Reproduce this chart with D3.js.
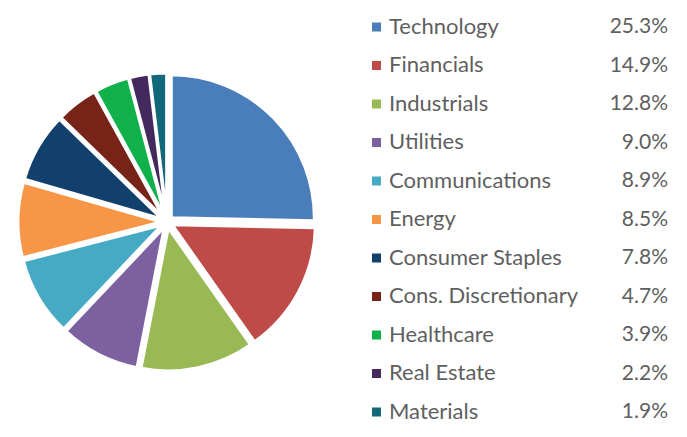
<!DOCTYPE html>
<html><head><meta charset="utf-8">
<script src="https://cdn.jsdelivr.net/npm/d3@7"></script>
<style>html,body{margin:0;padding:0;background:#fff;}</style>
</head><body><svg id="c" width="687" height="437"></svg>
<script>
const categories = ["Technology","Financials","Industrials","Utilities","Communications","Energy","Consumer Staples","Cons. Discretionary","Healthcare","Real Estate","Materials"];
const values = [25.3,14.9,12.8,9.0,8.9,8.5,7.8,4.7,3.9,2.2,1.9];
const valueLabels = ["25.3%","14.9%","12.8%","9.0%","8.9%","8.5%","7.8%","4.7%","3.9%","2.2%","1.9%"];
const colors = ["#4a7ebb","#be4b48","#98b954","#7d60a0","#46aac5","#f79646","#11406d","#772318","#10b04a","#44295e","#126878"];

const svg = d3.select("#c");
const cx = 167, cy = 222, R = 143, explode = 6;
const pie = d3.pie().sort(null).value(d => d.v);
const arcs = pie(categories.map((c,i)=>({c, v: values[i], col: colors[i]})));
const arc = d3.arc().innerRadius(0).outerRadius(R);
const g = svg.append("g").attr("transform", `translate(${cx},${cy})`);
g.selectAll("path").data(arcs).join("path")
  .attr("d", arc)
  .attr("fill", d => d.data.col)
  .attr("stroke", "#fff").attr("stroke-width", 3).attr("stroke-linejoin","miter")
  .attr("transform", d => {
    const a = (d.startAngle + d.endAngle)/2;
    return `translate(${explode*Math.sin(a)},${-explode*Math.cos(a)})`;
  });

const y = d3.scalePoint().domain(categories).range([27, 412]);
const lg = svg.append("g");
const rows = lg.selectAll("g").data(categories).join("g")
  .attr("transform", d => `translate(0,${y(d)})`);
rows.append("rect").attr("x", 372).attr("y", -4.5).attr("width", 9).attr("height", 9)
  .attr("fill", (d,i) => colors[i]);
rows.append("text").attr("x", 389).attr("y", 0).attr("dy", "0.3em")
  .attr("font-family", "Lato, 'Open Sans', sans-serif").attr("font-size", 22)
  .attr("fill", "#5f5f5f").text(d => d);
rows.append("text").attr("x", 668).attr("y", 0).attr("dy", "0.3em")
  .attr("text-anchor", "end")
  .attr("font-family", "Lato, 'Open Sans', sans-serif").attr("font-size", 21)
  .attr("fill", "#5f5f5f").text((d,i) => valueLabels[i]);
</script></body></html>
